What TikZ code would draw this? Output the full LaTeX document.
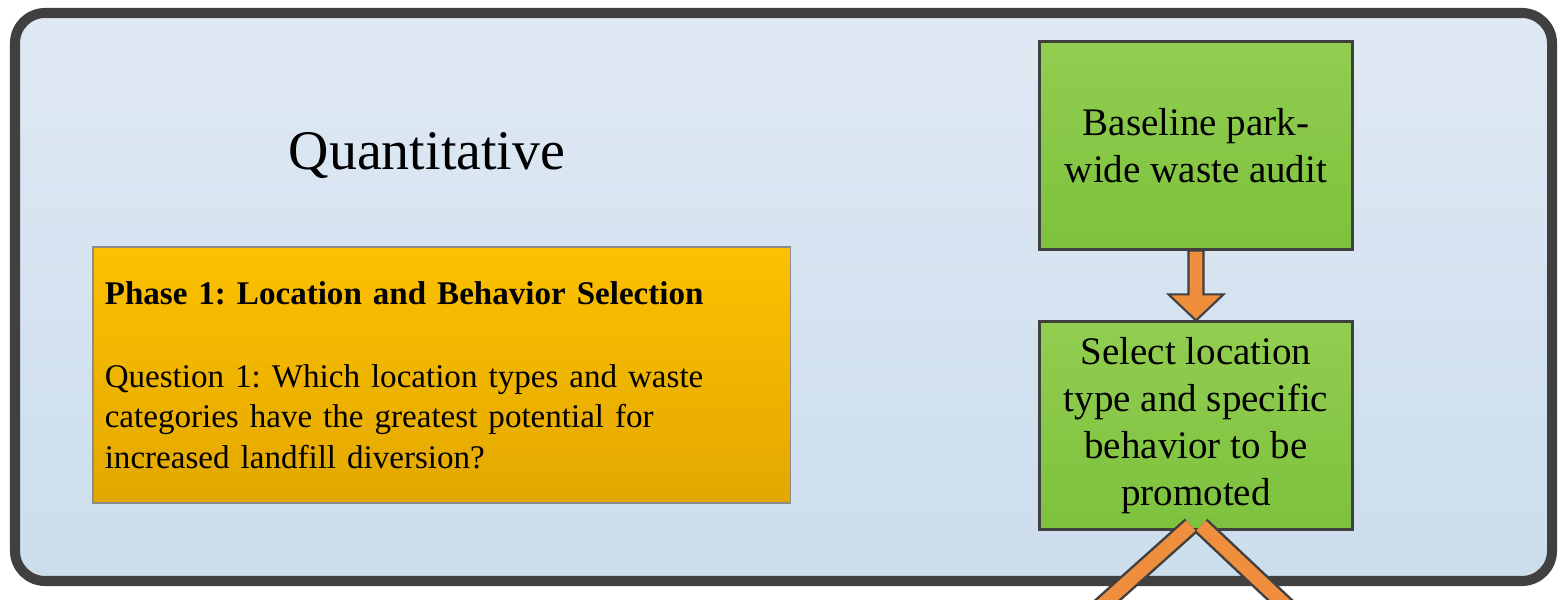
\documentclass[tikz,border=0pt]{standalone}
\usepackage{fontspec}
\setmainfont{Liberation Serif}
\usetikzlibrary{calc}
\frenchspacing

\definecolor{framegray}{HTML}{404040}
\definecolor{paneltop}{HTML}{DFE9F4}
\definecolor{panelbot}{HTML}{CCDDEC}
\definecolor{greentop}{HTML}{92CD50}
\definecolor{greenbot}{HTML}{7DC23E}
\definecolor{goldtop}{HTML}{FCC100}
\definecolor{goldbot}{HTML}{E3A800}
\definecolor{goldedge}{HTML}{8C8C8C}
\definecolor{arroworange}{HTML}{EF8E3C}

\begin{document}
\begin{tikzpicture}[x=0.01cm,y=0.01cm,
    frame/.style={draw=framegray,line width=2.85pt,rounded corners=0.3cm,
      top color=paneltop,bottom color=panelbot},
    greenbox/.style={draw=framegray,line width=0.85pt,top color=greentop,
      bottom color=greenbot,minimum width=3.12cm,minimum height=2.07cm,
      align=center,inner sep=2pt,font=\fontsize{11.1}{13.3}\selectfont},
    phasebox/.style={draw=goldedge,line width=0.4pt,top color=goldtop,
      bottom color=goldbot,minimum width=6.97cm,minimum height=2.56cm,
      text width=6.73cm,align=left,font=\fontsize{9.4}{11.5}\selectfont},
    blockarrow/.style={draw=framegray,line width=0.6pt,fill=arroworange},
    outline/.style={draw=framegray,line width=5.3pt},
    shaft/.style={draw=arroworange,line width=3.9pt}]
  \useasboundingbox (0,0) rectangle (1560,600);
  \draw[frame] (15,19) rectangle (1552,587);
  \node[anchor=base,font=\fontsize{15.9}{19}\selectfont] (quant) at (427,430) {Quantitative};
  \node[phasebox] (phase) at (441.5,225) {\textbf{Phase 1: Location and Behavior Selection}\\[12.1pt]
    Question 1: Which location types and waste\\
    categories have the greatest potential for\\
    increased landfill diversion?};
  \node[greenbox] (audit) at (1196,454.5) {Baseline park-\\wide waste audit};
  \node[greenbox] (select) at (1196,174.5) {Select location\\type and specific\\behavior to be\\promoted};
  \draw[blockarrow] ($(audit.south)+(-7.5,0)$) -- ($(select.north)+(-7.5,26)$) -- ++(-20,0)
    -- (select.north) -- ++(27.5,26) -- ++(-20,0) -- ($(audit.south)+(7.5,0)$) -- cycle;
  \coordinate (leftend) at (1052,-50);
  \coordinate (rightend) at (1333,-50);
  \begin{scope}
    \clip (0,0) rectangle (1560,600);
    \draw[outline] ($(select.south)+(-5,5)$) -- (leftend);
    \draw[shaft] ($(select.south)+(-5,5)$) -- (leftend);
    \draw[outline] ($(select.south)+(5,5)$) -- (rightend);
    \draw[shaft] ($(select.south)+(5,5)$) -- (rightend);
  \end{scope}
\end{tikzpicture}
\end{document}
